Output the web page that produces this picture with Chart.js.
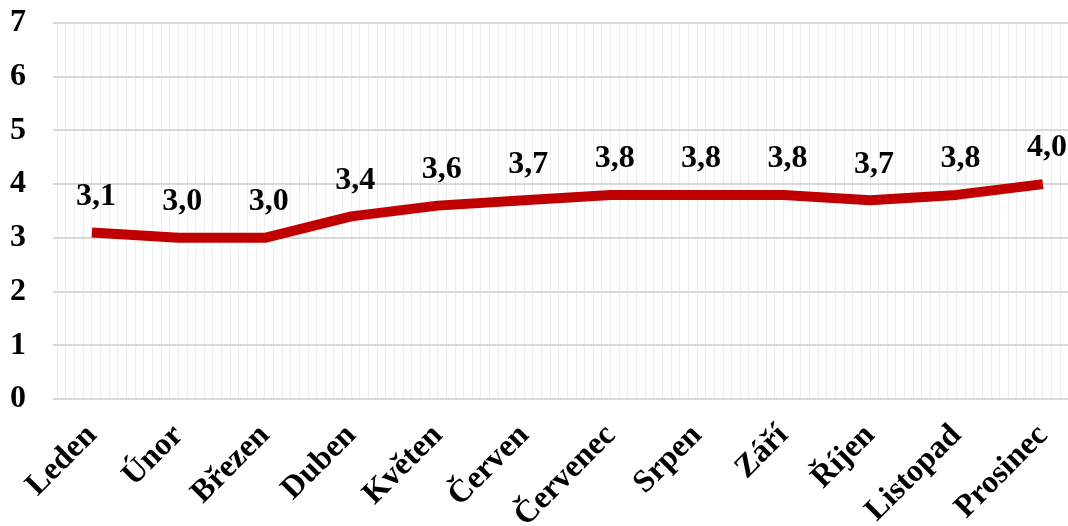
<!DOCTYPE html>
<html>
<head>
<meta charset="utf-8">
<script src="https://cdn.jsdelivr.net/npm/chart.js@4"></script>
<style>
  html, body { margin: 0; padding: 0; background: #fff; }
  #wrap { width: 1068px; height: 526px; }
</style>
</head>
<body>
<div id="wrap"><canvas id="graf"></canvas></div>
<script>
const mesice = ['Leden', 'Únor', 'Březen', 'Duben', 'Květen', 'Červen', 'Červenec', 'Srpen', 'Září', 'Říjen', 'Listopad', 'Prosinec'];
const hodnoty = [3.1, 3.0, 3.0, 3.4, 3.6, 3.7, 3.8, 3.8, 3.8, 3.7, 3.8, 4.0];
const osaY = [0, 1, 2, 3, 4, 5, 6, 7];

const pismo = { family: '"Liberation Serif", "Times New Roman", serif', size: 32, weight: 'bold' };

// popisky hodnot nad body
const popisky = {
  id: 'popisky',
  afterDatasetsDraw(chart) {
    const ctx = chart.ctx;
    const meta = chart.getDatasetMeta(0);
    ctx.save();
    ctx.font = `bold ${pismo.size}px ${pismo.family}`;
    ctx.fillStyle = '#000';
    ctx.textAlign = 'center';
    ctx.textBaseline = 'middle';
    meta.data.forEach((p, i) => {
      ctx.fillText(hodnoty[i].toFixed(1).replace('.', ','), p.x + 4, p.y - 36);
    });
    ctx.restore();
  }
};

new Chart(document.getElementById('graf'), {
  type: 'line',
  data: {
    datasets: [{
      data: hodnoty.map((v, i) => ({ x: i, y: v })),
      borderColor: '#c00000',
      borderWidth: 10,
      pointRadius: 0,
      tension: 0,
      borderCapStyle: 'butt',
      borderJoinStyle: 'round'
    }]
  },
  options: {
    responsive: true,
    maintainAspectRatio: false,
    animation: false,
    layout: { padding: { top: 23, left: 10, right: 0, bottom: 0 } },
    plugins: { legend: { display: false }, tooltip: { enabled: false } },
    scales: {
      x: {
        type: 'linear',
        min: -0.45,
        max: 11.29,
        afterBuildTicks(scale) {
          const t = [];
          for (let k = -4; k <= 112; k++) t.push({ value: k / 10 });
          scale.ticks = t;
        },
        afterFit(scale) {
          scale.paddingRight = 0;
          scale.paddingLeft = 0;
          scale.height = 127;
        },
        border: { display: false },
        grid: {
          drawTicks: false,
          color: 'rgba(0,0,0,0.07)',
          lineWidth: 1
        },
        ticks: {
          autoSkip: false,
          minRotation: 45,
          maxRotation: 45,
          padding: 18,
          color: '#000',
          font: pismo,
          callback(v) {
            const i = Math.round(v * 10);
            return i % 10 === 0 && i >= 0 ? mesice[i / 10] : '';
          }
        }
      },
      y: {
        min: osaY[0],
        max: osaY[osaY.length - 1],
        afterBuildTicks(scale) {
          scale.ticks = osaY.map(v => ({ value: v }));
        },
        afterFit(scale) {
          scale.paddingTop = 0;
          scale.paddingBottom = 0;
          scale.width = 43;
        },
        border: { display: false },
        grid: { color: '#d9d9d9', lineWidth: 2, drawTicks: false },
        ticks: { padding: 27, color: '#000', font: pismo }
      }
    }
  },
  plugins: [popisky]
});
</script>
</body>
</html>
